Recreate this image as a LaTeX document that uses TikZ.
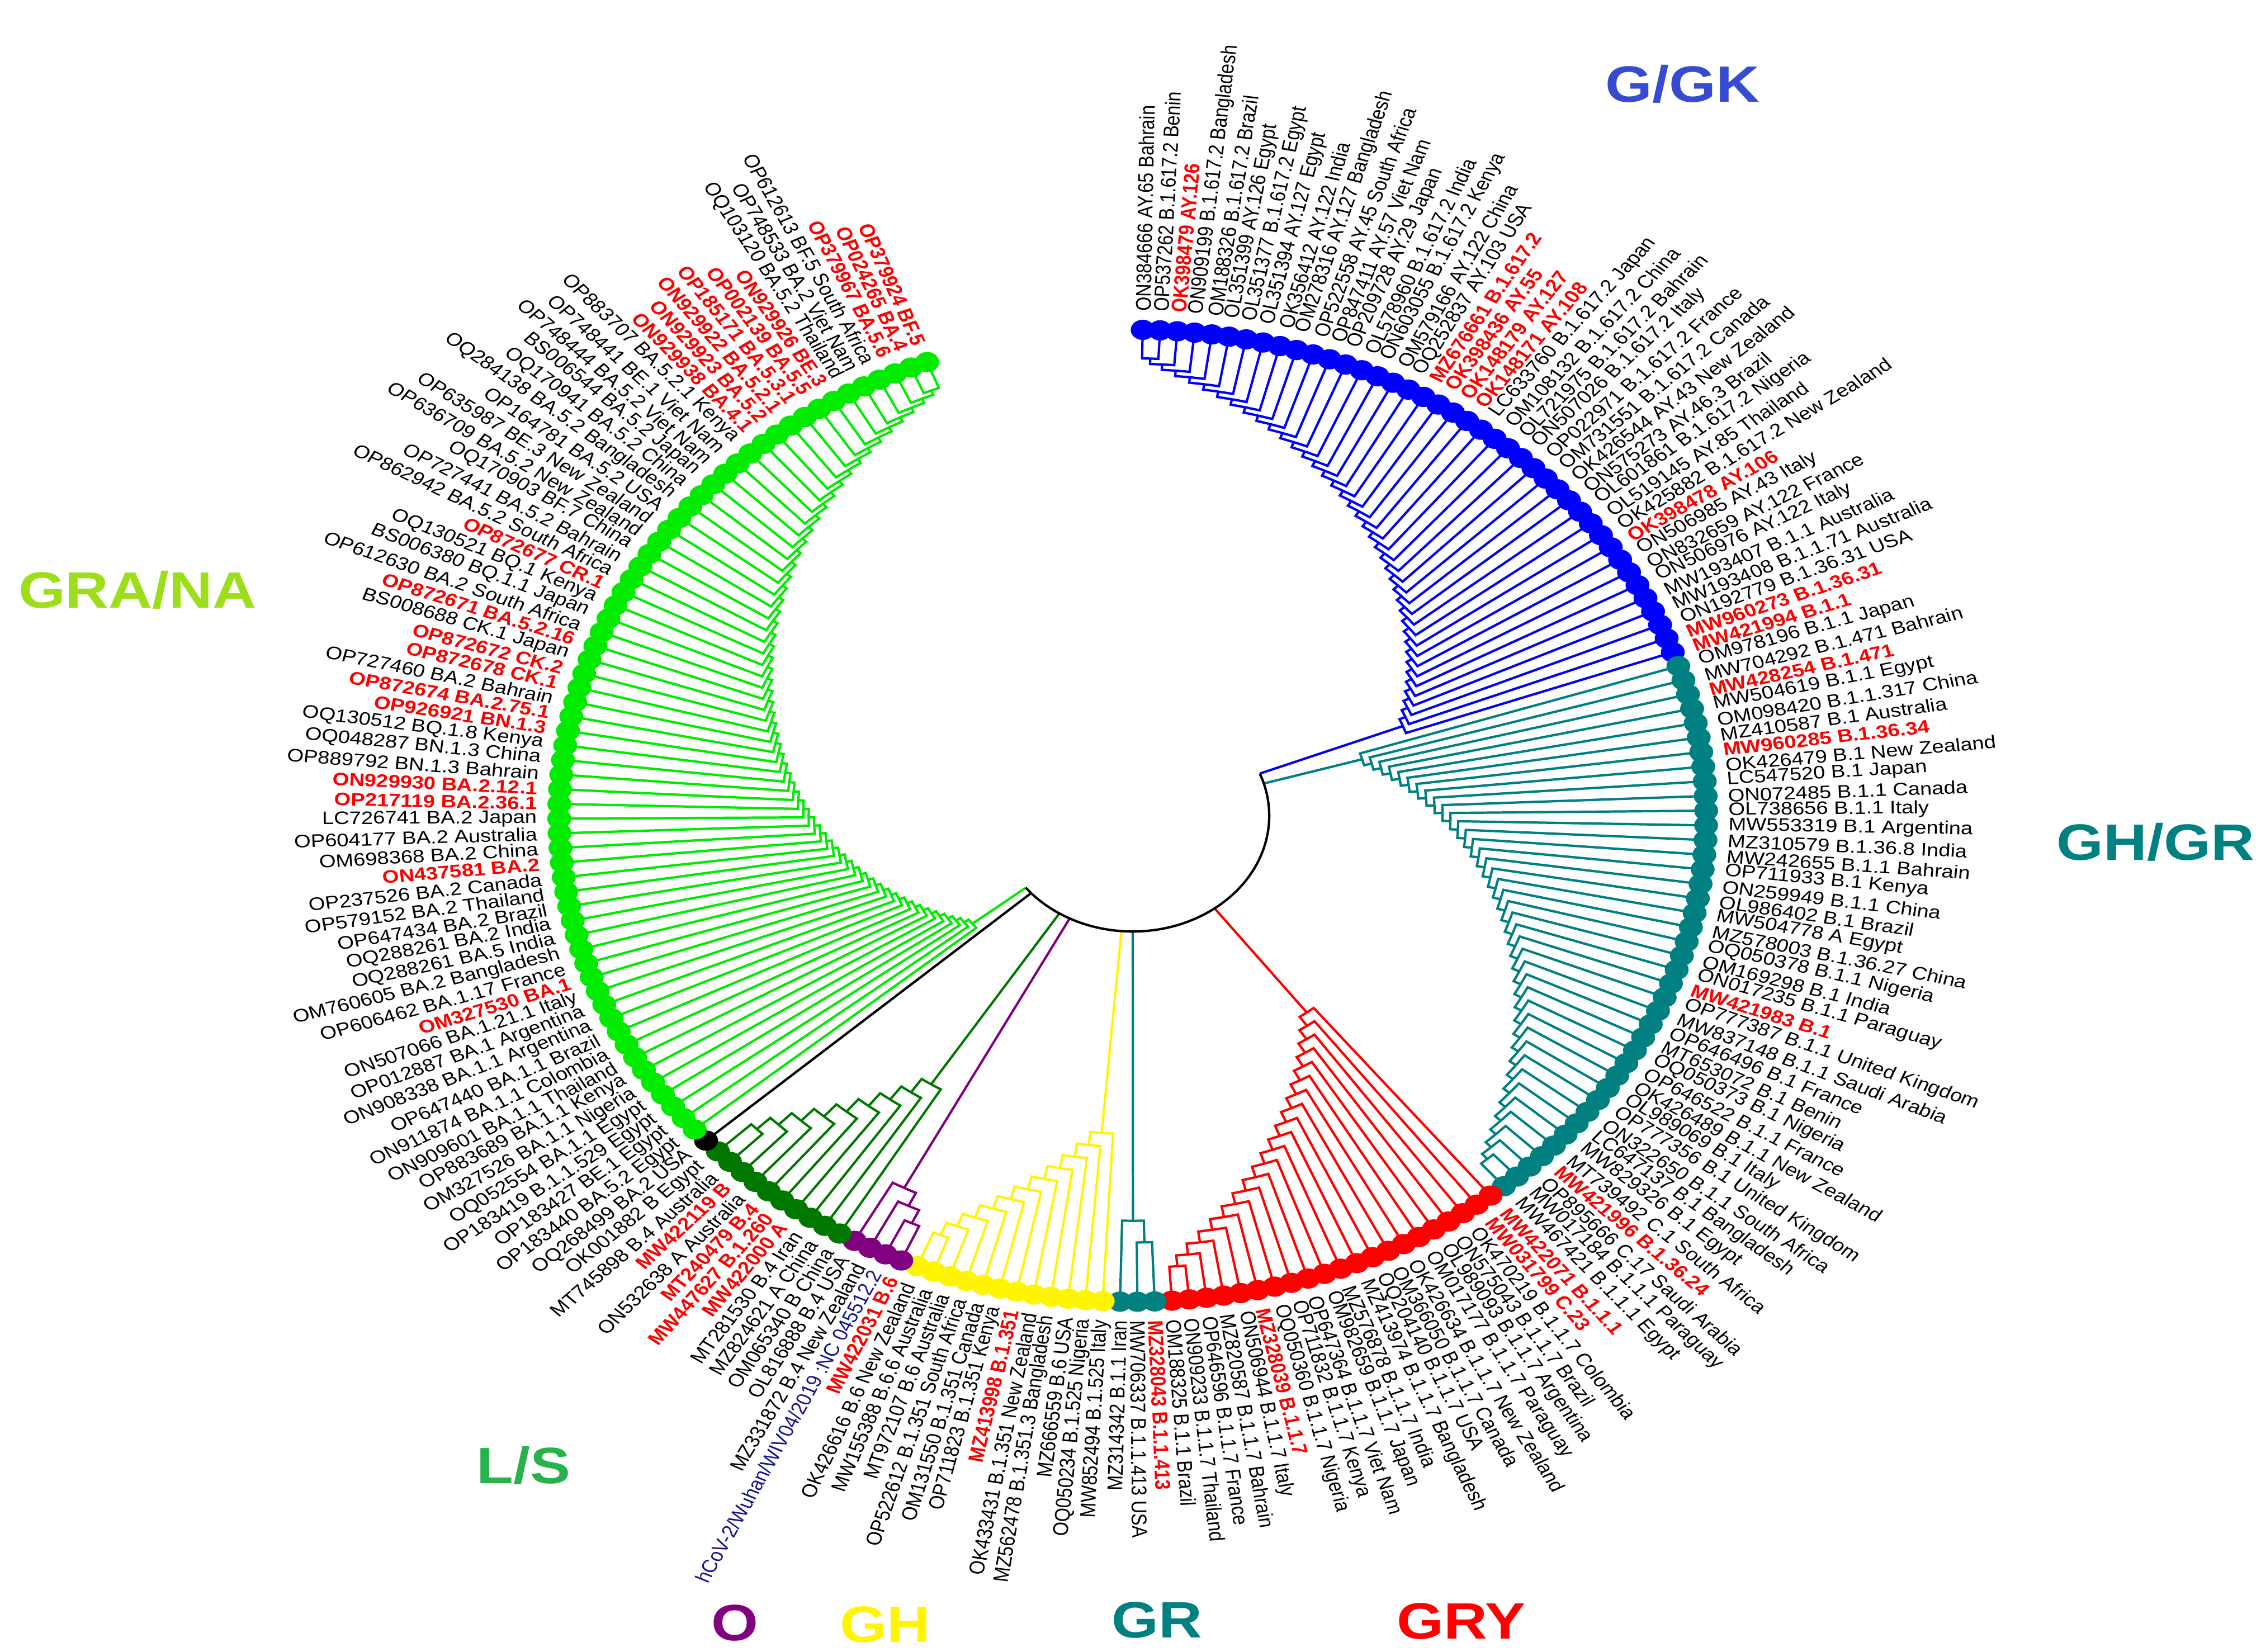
\documentclass[tikz,border=0pt]{standalone}
\usepackage{fontspec}
\setmainfont{Liberation Sans}
\definecolor{teal2}{RGB}{0,128,128}
\definecolor{lime2}{RGB}{0,235,0}
\definecolor{dkgreen}{RGB}{0,120,0}
\definecolor{purp}{RGB}{128,0,128}
\definecolor{yel}{RGB}{255,245,0}
\definecolor{navy2}{RGB}{20,20,140}
\definecolor{gkblue}{RGB}{55,75,210}
\definecolor{granag}{RGB}{155,222,25}
\definecolor{lsg}{RGB}{40,178,75}
\newcounter{tip}
\tikzset{
 lab/.style={font=\fontsize{9.2}{9.5}\selectfont, inner sep=0.6pt},
 rb/.style={text=red, font=\fontsize{9.2}{9.5}\selectfont\bfseries},
 nv/.style={text=navy2},
 bk/.style={text=black},
 br/.style={line width=1.2pt},
 cl/.style={font=\fontsize{26}{28}\selectfont\bfseries, xscale=1.18}
}
\newcommand\Rb{330}
\newcommand\Rc{80}
\newcommand\tp[2]{\stepcounter{tip}%
 \pgfmathsetmacro\ang{89-(\thetip-1)*\dA}%
 \pgfmathtruncatemacro\side{cos(\ang)>=0}%
 \ifnum\side=1
  \node[lab,#1,anchor=west,rotate=\ang] (t\thetip) at (\ang:348) {#2};
 \else
  \pgfmathsetmacro\angb{\ang+180}%
  \node[lab,#1,anchor=east,rotate=\angb] (t\thetip) at (\ang:348) {#2};
 \fi}
\newcommand\tipdots[3]{\foreach \j in {#1,...,#2}{\pgfmathsetmacro\a{89-(\j-1)*\dA}\fill[#3] (\a:336) circle[radius=7];}}
\newcommand\clade[5]{%
 \pgfmathtruncatemacro\cn{abs(#2-#1)}%
 \pgfmathtruncatemacro\cs{#2>#1?1:-1}%
 \pgfmathsetmacro\tmp{89-(#1-1)*\dA}\xdef\subA{\tmp}\xdef\subR{\Rb}%
 \ifnum\cn>0
 \foreach \k in {1,...,\cn}{%
   \pgfmathtruncatemacro\jj{#1+\cs*\k}%
   \pgfmathsetmacro\tj{89-(\jj-1)*\dA}%
   \pgfmathsetmacro\rj{#5-(#5-#4)*\k/\cn}%
   \draw[br,#3] (\tj:\Rb) -- (\tj:\rj) arc[start angle=\tj, end angle=\subA, radius=\rj] -- (\subA:\subR);
   \pgfmathsetmacro\nA{(\tj+\subA)/2}\xdef\subA{\nA}\xdef\subR{\rj}%
 }\fi
 \draw[br,#3] (\subA:\subR) -- (\subA:\Rc);}
\begin{document}
\begin{tikzpicture}[x=0.02587cm,y=0.02587cm]
\useasboundingbox (0,0) rectangle (1563,1142);
\pgfmathsetmacro\dA{338/195}
\begin{scope}[shift={(783,578)},xscale=1.18,transform shape]
% tree
\clade{1}{41}{blue}{170}{320}\xdef\blueA{\subA}
\clade{81}{42}{teal2}{140}{320}
\clade{102}{82}{red}{170}{320}
\clade{103}{105}{teal2}{280}{310}
\clade{117}{106}{yel}{220}{320}
\clade{118}{121}{purp}{290}{320}
\clade{131}{122}{dkgreen}{220}{320}
\draw[br,black] ({89-131*\dA}:\Rb) -- ({89-131*\dA}:\Rc);
\clade{196}{133}{lime2}{120}{320}\xdef\greenA{\subA}
\draw[br,black] (\greenA:\Rc) arc[start angle=\greenA, end angle=\blueA, radius=\Rc];
% dots
\tipdots{1}{41}{blue}
\tipdots{42}{81}{teal2}
\tipdots{82}{102}{red}
\tipdots{103}{105}{teal2}
\tipdots{106}{117}{yel}
\tipdots{118}{121}{purp}
\tipdots{122}{131}{dkgreen}
\tipdots{132}{132}{black}
\tipdots{133}{196}{lime2}
% labels
\tp{bk}{ON384666 AY.65 Bahrain}
\tp{bk}{OP537262 B.1.617.2 Benin}
\tp{rb}{OK398479 AY.126}
\tp{bk}{ON909199 B.1.617.2 Bangladesh}
\tp{bk}{OM188326 B.1.617.2 Brazil}
\tp{bk}{OL351399 AY.126 Egypt}
\tp{bk}{OL351377 B.1.617.2 Egypt}
\tp{bk}{OL351394 AY.127 Egypt}
\tp{bk}{OK356412 AY.122 India}
\tp{bk}{OM278316 AY.127 Bangladesh}
\tp{bk}{OP522558 AY.45 South Africa}
\tp{bk}{OP847411 AY.57 Viet Nam}
\tp{bk}{OP209728 AY.29 Japan}
\tp{bk}{OL578960 B.1.617.2 India}
\tp{bk}{ON603055 B.1.617.2 Kenya}
\tp{bk}{OM579166 AY.122 China}
\tp{bk}{OQ252837 AY.103 USA}
\tp{rb}{MZ676661 B.1.617.2}
\tp{rb}{OK398436 AY.55}
\tp{rb}{OK148179 AY.127}
\tp{rb}{OK148171 AY.108}
\tp{bk}{LC633760 B.1.617.2 Japan}
\tp{bk}{OM108132 B.1.617.2 China}
\tp{bk}{OL721975 B.1.617.2 Bahrain}
\tp{bk}{ON507026 B.1.617.2 Italy}
\tp{bk}{OP022971 B.1.617.2 France}
\tp{bk}{OM731551 B.1.617.2 Canada}
\tp{bk}{OK426544 AY.43 New Zealand}
\tp{bk}{ON575273 AY.46.3 Brazil}
\tp{bk}{OL601861 B.1.617.2 Nigeria}
\tp{bk}{OL519145 AY.85 Thailand}
\tp{bk}{OK425882 B.1.617.2 New Zealand}
\tp{rb}{OK398478 AY.106}
\tp{bk}{ON506985 AY.43 Italy}
\tp{bk}{ON832659 AY.122 France}
\tp{bk}{ON506976 AY.122 Italy}
\tp{bk}{MW193407 B.1.1 Australia}
\tp{bk}{MW193408 B.1.1.71 Australia}
\tp{bk}{ON192779 B.1.36.31 USA}
\tp{rb}{MW960273 B.1.36.31}
\tp{rb}{MW421994 B.1.1}
\tp{bk}{OM978196 B.1.1 Japan}
\tp{bk}{MW704292 B.1.471 Bahrain}
\tp{rb}{MW428254 B.1.471}
\tp{bk}{MW504619 B.1.1 Egypt}
\tp{bk}{OM098420 B.1.1.317 China}
\tp{bk}{MZ410587 B.1 Australia}
\tp{rb}{MW960285 B.1.36.34}
\tp{bk}{OK426479 B.1 New Zealand}
\tp{bk}{LC547520 B.1 Japan}
\tp{bk}{ON072485 B.1.1 Canada}
\tp{bk}{OL738656 B.1.1 Italy}
\tp{bk}{MW553319 B.1 Argentina}
\tp{bk}{MZ310579 B.1.36.8 India}
\tp{bk}{MW242655 B.1.1 Bahrain}
\tp{bk}{OP711933 B.1 Kenya}
\tp{bk}{ON259949 B.1.1 China}
\tp{bk}{OL986402 B.1 Brazil}
\tp{bk}{MW504778 A Egypt}
\tp{bk}{MZ578003 B.1.36.27 China}
\tp{bk}{OQ050378 B.1.1 Nigeria}
\tp{bk}{OM169298 B.1 India}
\tp{bk}{ON017235 B.1.1 Paraguay}
\tp{rb}{MW421983 B.1}
\tp{bk}{OP777387 B.1.1 United Kingdom}
\tp{bk}{MW837148 B.1.1 Saudi Arabia}
\tp{bk}{OP646496 B.1 France}
\tp{bk}{MT653072 B.1 Benin}
\tp{bk}{OQ050373 B.1 Nigeria}
\tp{bk}{OP646522 B.1.1 France}
\tp{bk}{OK426489 B.1.1 New Zealand}
\tp{bk}{OL989069 B.1 Italy}
\tp{bk}{OP777356 B.1 United Kingdom}
\tp{bk}{ON322650 B.1.1 South Africa}
\tp{bk}{LC647137 B.1 Bangladesh}
\tp{bk}{MW829326 B.1 Egypt}
\tp{bk}{MT739492 C.1 South Africa}
\tp{rb}{MW421996 B.1.36.24}
\tp{bk}{OP895666 C.17 Saudi Arabia}
\tp{bk}{MW017184 B.1.1.1 Paraguay}
\tp{bk}{MW467421 B.1.1.1 Egypt}
\tp{rb}{MW422071 B.1.1.1}
\tp{rb}{MW031799 C.23}
\tp{bk}{OK470219 B.1.1.7 Colombia}
\tp{bk}{ON575043 B.1.1.7 Brazil}
\tp{bk}{OL989093 B.1.1.7 Argentina}
\tp{bk}{OM017177 B.1.1.7 Paraguay}
\tp{bk}{OK426634 B.1.1.7 New Zealand}
\tp{bk}{OM366050 B.1.1.7 Canada}
\tp{bk}{OQ204140 B.1.1.7 USA}
\tp{bk}{MZ413974 B.1.1.7 Bangladesh}
\tp{bk}{MZ576878 B.1.1.7 India}
\tp{bk}{OM982659 B.1.1.7 Japan}
\tp{bk}{OP647364 B.1.1.7 Viet Nam}
\tp{bk}{OP711832 B.1.1.7 Kenya}
\tp{bk}{OQ050360 B.1.1.7 Nigeria}
\tp{rb}{MZ328039 B.1.1.7}
\tp{bk}{ON506944 B.1.1.7 Italy}
\tp{bk}{MZ820587 B.1.1.7 Bahrain}
\tp{bk}{OP646596 B.1.1.7 France}
\tp{bk}{ON909233 B.1.1.7 Thailand}
\tp{bk}{OM188325 B.1.1 Brazil}
\tp{rb}{MZ328043 B.1.1.413}
\tp{bk}{MW706337 B.1.1.413 USA}
\tp{bk}{MZ314342 B.1.1 Iran}
\tp{bk}{MW852494 B.1.525 Italy}
\tp{bk}{OQ050234 B.1.525 Nigeria}
\tp{bk}{MZ666559 B.6 USA}
\tp{bk}{MZ562478 B.1.351.3 Bangladesh}
\tp{bk}{OK433431 B.1.351 New Zealand}
\tp{rb}{MZ413998 B.1.351}
\tp{bk}{OP711823 B.1.351 Kenya}
\tp{bk}{OM131550 B.1.351 Canada}
\tp{bk}{OP522612 B.1.351 South Africa}
\tp{bk}{MT972107 B.6 Australia}
\tp{bk}{MW155388 B.6.6 Australia}
\tp{bk}{OK426616 B.6 New Zealand}
\tp{rb}{MW422031 B.6}
\tp{nv}{hCoV-2/Wuhan/WIV04/2019 :NC 045512.2}
\tp{bk}{MZ331872 B.4 New Zealand}
\tp{bk}{OL816888 B.4 USA}
\tp{bk}{OM065340 B China}
\tp{bk}{MZ824621 A China}
\tp{bk}{MT281530 B.4 Iran}
\tp{rb}{MW422000 A}
\tp{rb}{MW447627 B.1.260}
\tp{rb}{MT240479 B.4}
\tp{bk}{ON532638 A Australia}
\tp{rb}{MW422119 B}
\tp{bk}{MT745898 B.4 Australia}
\tp{bk}{OK001882 B Egypt}
\tp{bk}{OQ268499 BA.2 USA}
\tp{bk}{OP183440 BA.5.2 Egypt}
\tp{bk}{OP183427 BE.1 Egypt}
\tp{bk}{OP183419 B.1.1.529 Egypt}
\tp{bk}{OQ052554 BA.1.1 Egypt}
\tp{bk}{OM327526 BA.1.1 Nigeria}
\tp{bk}{OP883689 BA.1.1 Kenya}
\tp{bk}{ON909601 BA.1.1 Thailand}
\tp{bk}{ON911874 BA.1.1 Colombia}
\tp{bk}{OP647440 BA.1.1 Brazil}
\tp{bk}{ON908338 BA.1.1 Argentina}
\tp{bk}{OP012887 BA.1 Argentina}
\tp{bk}{ON507066 BA.1.21.1 Italy}
\tp{rb}{OM327530 BA.1}
\tp{bk}{OP606462 BA.1.17 France}
\tp{bk}{OM760605 BA.2 Bangladesh}
\tp{bk}{OQ288261 BA.5 India}
\tp{bk}{OQ288261 BA.2 India}
\tp{bk}{OP647434 BA.2 Brazil}
\tp{bk}{OP579152 BA.2 Thailand}
\tp{bk}{OP237526 BA.2 Canada}
\tp{rb}{ON437581 BA.2}
\tp{bk}{OM698368 BA.2 China}
\tp{bk}{OP604177 BA.2 Australia}
\tp{bk}{LC726741 BA.2 Japan}
\tp{rb}{OP217119 BA.2.36.1}
\tp{rb}{ON929930 BA.2.12.1}
\tp{bk}{OP889792 BN.1.3 Bahrain}
\tp{bk}{OQ048287 BN.1.3 China}
\tp{bk}{OQ130512 BQ.1.8 Kenya}
\tp{rb}{OP926921 BN.1.3}
\tp{rb}{OP872674 BA.2.75.1}
\tp{bk}{OP727460 BA.2 Bahrain}
\tp{rb}{OP872678 CK.1}
\tp{rb}{OP872672 CK.2}
\tp{bk}{BS008688 CK.1 Japan}
\tp{rb}{OP872671 BA.5.2.16}
\tp{bk}{OP612630 BA.2 South Africa}
\tp{bk}{BS006380 BQ.1.1 Japan}
\tp{bk}{OQ130521 BQ.1 Kenya}
\tp{rb}{OP872677 CR.1}
\tp{bk}{OP862942 BA.5.2 South Africa}
\tp{bk}{OP727441 BA.5.2 Bahrain}
\tp{bk}{OQ170903 BF.7 China}
\tp{bk}{OP636709 BA.5.2 New Zealand}
\tp{bk}{OP635987 BE.3 New Zealand}
\tp{bk}{OP164781 BA.5.2 USA}
\tp{bk}{OQ284138 BA.5.2 Bangladesh}
\tp{bk}{OQ170941 BA.5.2 China}
\tp{bk}{BS006544 BA.5.2 Japan}
\tp{bk}{OP748444 BA.5.2 Viet Nam}
\tp{bk}{OP748441 BE.1 Viet Nam}
\tp{bk}{OP883707 BA.5.2.1 Kenya}
\tp{rb}{ON929938 BA.4.1}
\tp{rb}{ON929923 BA.5.2}
\tp{rb}{ON929922 BA.5.2.1}
\tp{rb}{OP185171 BA.5.3.1}
\tp{rb}{OP002139 BA.5.5}
\tp{rb}{ON929926 BE.3}
\tp{bk}{OQ103120 BA.5.2 Thailand}
\tp{bk}{OP748533 BA.2 Viet Nam}
\tp{bk}{OP612613 BF.5 South Africa}
\tp{rb}{OP379967 BA.5.6}
\tp{rb}{OP024265 BA.4}
\tp{rb}{OP379924 BF.5}
\end{scope}
% clade labels
\node[cl,text=gkblue] (gk) at (1163,1084) {G/GK};
\node[cl,text=teal2] (ghgr) at (1490,560) {GH/GR};
\node[cl,text=granag] (grana) at (95,734) {GRA/NA};
\node[cl,text=lsg] (ls) at (362,129) {L/S};
\node[cl,text=purp] (o) at (508,20) {O};
\node[cl,text=yel] (gh) at (612,19) {GH};
\node[cl,text=teal2] (gr) at (800,22) {GR};
\node[cl,text=red] (gry) at (1010,21) {GRY};
\end{tikzpicture}
\end{document}
